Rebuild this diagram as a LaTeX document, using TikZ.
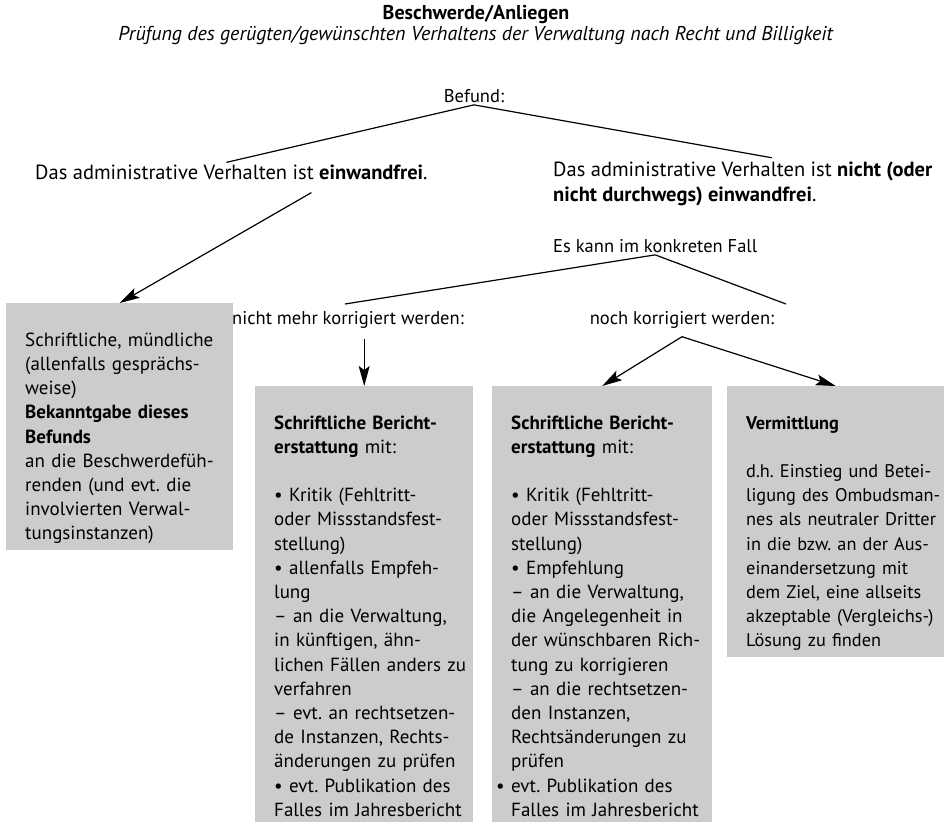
\documentclass[tikz,border=0pt]{standalone}
\usepackage{fontspec}
\setmainfont{PT Sans}
\usetikzlibrary{positioning,arrows.meta}
\definecolor{boxgray}{RGB}{204,204,204}
\frenchspacing
\tikzset{
  linkline/.style={line width=1.2pt},
  linkarrow/.style={-{Stealth[length=20pt,width=11pt,inset=4pt]}, line width=1.2pt},
  headtext/.style={font=\fontsize{20}{24}\selectfont, inner sep=1pt},
  plaintext/.style={font=\fontsize{18.5}{25}\selectfont, align=left, inner sep=2pt},
  findtext/.style={plaintext, font=\fontsize{20.5}{25}\selectfont},
  graybox/.style={fill=boxgray, anchor=north west, align=left, inner xsep=0pt, inner ysep=6pt,
    font=\fontsize{19}{24.2}\selectfont,
    execute at begin node={\leftskip=19pt\rightskip=-25pt plus 1fil\relax\rule{0pt}{37pt}}}
}

\begin{document}
\begin{tikzpicture}[x=1pt, y=-1pt]
      \useasboundingbox (0,0) rectangle (944,827);
      % heading
      \node[headtext] (title) at (476,14) {\textbf{Beschwerde/Anliegen}};
      \node[headtext] (subtitle) at (476,35) {\textit{Prüfung des gerügten/gewünschten Verhaltens der Verwaltung nach Recht und Billigkeit}};
      % findings
      \node[plaintext] (befund) at (474,96) {Befund:};
      \node[findtext, anchor=west] (ok) at (33,172) {Das administrative Verhalten ist \textbf{einwandfrei}.};
      \node[findtext, anchor=west] (notok) at (551,184) {Das administrative Verhalten ist \textbf{nicht (oder}\\\textbf{nicht durchwegs) einwandfrei}.};
      \node[plaintext, anchor=west] (kann) at (551,246) {Es kann im konkreten Fall};
      % grey boxes
      \node[graybox, text width=227pt] (box1) at (6,303) {Schriftliche, mündliche\\(allenfalls gesprächs-\\weise)\\\textbf{Bekanntgabe dieses}\\\textbf{Befunds}\\an die Beschwerdefüh-\\renden (und evt. die\\involvierten Verwal-\\tungsinstanzen)};
      \node[graybox, text width=218pt] (box2) at (255,386) {\textbf{Schriftliche Bericht-}\\\textbf{erstattung} mit:\\[24pt]• Kritik (Fehltritt-\\oder Missstandsfest-\\stellung)\\• allenfalls Empfeh-\\lung\\– an die Verwaltung,\\in künftigen, ähn-\\lichen Fällen anders zu\\verfahren\\– evt. an rechtsetzen-\\de Instanzen, Rechts-\\änderungen zu prüfen\\• evt. Publikation des\\Falles im Jahresbericht};
      \node[graybox, text width=220pt] (box3) at (492,386) {\textbf{Schriftliche Bericht-}\\\textbf{erstattung} mit:\\[24pt]• Kritik (Fehltritt-\\oder Missstandsfest-\\stellung)\\• Empfehlung\\– an die Verwaltung,\\die Angelegenheit in\\der wünschbaren Rich-\\tung zu korrigieren\\– an die rechtsetzen-\\den Instanzen,\\Rechtsänderungen zu\\prüfen\\\hspace*{-15pt}• evt. Publikation des\\Falles im Jahresbericht};
      \node[graybox, text width=217pt, font=\fontsize{18.3}{24.2}\selectfont] (box4) at (727,386) {\textbf{Vermittlung}\\[24pt]d.h. Einstieg und Betei-\\ligung des Ombudsman-\\nes als neutraler Dritter\\in die bzw. an der Aus-\\einandersetzung mit\\dem Ziel, eine allseits\\akzeptable (Vergleichs-)\\Lösung zu finden};
      % the two cases
      \node[plaintext] (nomore) at (348,320) {nicht mehr korrigiert werden:};
      \node[plaintext] (still) at (682,320) {noch korrigiert werden:};
      \coordinate (nomoretop) at (345,304);
      \coordinate (stilltop) at (786,304);
      % connectors
      \draw[linkline] (befund.south) -- ([xshift=-5pt]ok.north);
      \draw[linkline] (befund.south) -- ([xshift=29pt,yshift=2pt]notok.north);
      \draw[linkarrow] ([xshift=80pt,yshift=-11pt]ok.south) -- (box1.north);
      \draw[linkline] (kann.south) -- (nomoretop);
      \draw[linkline] (kann.south) -- (stilltop);
      \draw[linkarrow] ([yshift=-8pt]nomore.south -| box2.north) -- (box2.north);
      \draw[linkarrow] ([yshift=-6pt]still.south) -- (box3.north);
      \draw[linkarrow] ([yshift=-6pt]still.south) -- (box4.north);
\end{tikzpicture}
\end{document}
